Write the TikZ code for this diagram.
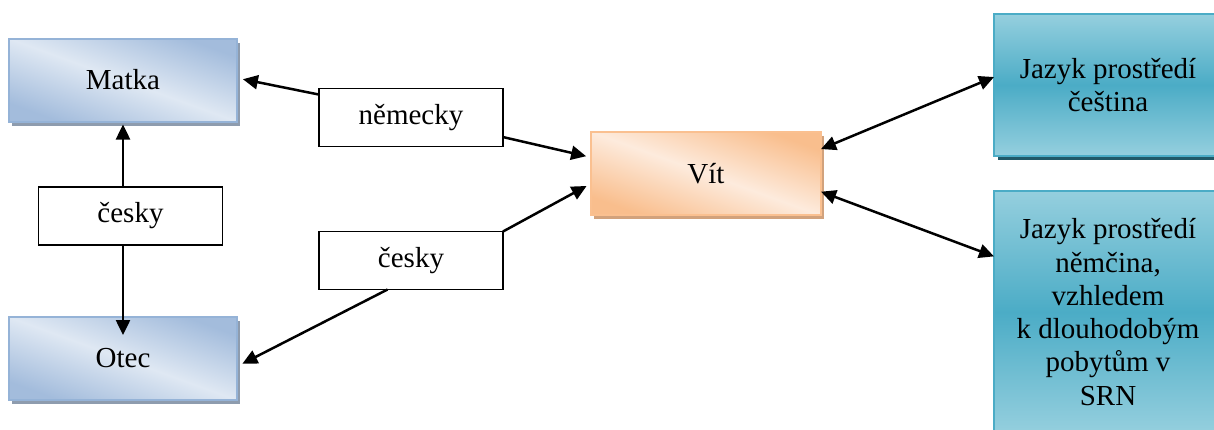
\documentclass[tikz,border=0pt]{standalone}
\usepackage{fontspec}
\setmainfont{LiberationSerif}[Extension=.ttf, UprightFont=*-Regular, BoldFont=*-Bold, ItalicFont=*-Italic, BoldItalicFont=*-BoldItalic]
\usetikzlibrary{arrows.meta,shadows,calc}
\definecolor{blueedge}{HTML}{95B3D7}
\definecolor{bluedark}{HTML}{A3BCDC}
\definecolor{bluelight}{HTML}{DFE8F3}
\definecolor{blueshadow}{HTML}{8E9CAE}
\definecolor{orangeedge}{HTML}{FAC090}
\definecolor{orangedark}{HTML}{F9BE8D}
\definecolor{orangelight}{HTML}{FDEBDD}
\definecolor{orangeshadow}{HTML}{D2A27C}
\definecolor{tealedge}{HTML}{4BACC6}
\definecolor{teallight}{HTML}{95CFDE}
\definecolor{tealdark}{HTML}{4BACC6}
\definecolor{tealshadow}{HTML}{215968}
\begin{document}
\begin{tikzpicture}[x=1pt,y=-1pt,
  every node/.style={font=\rmfamily\fontsize{29}{33.3}\selectfont, outer sep=0pt, inner sep=0pt, align=center},
  person/.style={draw=blueedge, line width=2pt, minimum width=228pt, minimum height=83pt,
    top color=bluedark, bottom color=bluedark, middle color=bluelight, shading angle=-20,
    drop shadow={shadow xshift=3pt, shadow yshift=-4pt, fill=blueshadow, opacity=1}},
  childbox/.style={draw=orangeedge, line width=2pt, minimum width=230pt, minimum height=83pt,
    top color=orangedark, bottom color=orangedark, middle color=orangelight, shading angle=-20,
    drop shadow={shadow xshift=3pt, shadow yshift=-4pt, fill=orangeshadow, opacity=1}},
  envbox/.style={draw=tealedge, line width=2pt, minimum width=228pt,
    top color=teallight, bottom color=teallight, middle color=tealdark,
    drop shadow={shadow xshift=4pt, shadow yshift=-4pt, fill=tealshadow, opacity=1}},
  tagbox/.style={draw=black, line width=1.5pt, fill=white, minimum width=184pt, minimum height=58pt},
  arr/.style={line width=2.5pt, -{Triangle[length=15pt,width=14pt]}},
  both/.style={line width=2.5pt, {Triangle[length=15pt,width=14pt]}-{Triangle[length=15pt,width=14pt]}}
]
\useasboundingbox (0,0) rectangle (1214,429);
\clip (0,0) rectangle (1214,429);

% family members and the child
\node[person] (mat) at (123,80) {Matka};
\node[person] (otec) at (123,358.5) {Otec};
\node[childbox] (vit) at (706,173.5) {Vít};

% language surroundings
\node[envbox, minimum height=142pt] (cz) at (1108,85) {Jazyk prostředí\\čeština};
\node[envbox, minimum height=242pt] (de) at (1108,312) {Jazyk prostředí\\němčina,\\vzhledem\\k dlouhodobým\\pobytům v\\SRN};

% language labels
\node[tagbox] (nem) at (411,117.5) {německy};
\node[tagbox] (cs1) at (130.5,216) {česky};
\node[tagbox] (cs2) at (411,260.5) {česky};

% connectors
\draw[arr, shorten >=6pt] (nem.166) -- (mat.1.5);
\draw[arr, shorten >=5pt] (nem.-12.6) -- (vit.172.3);
\draw[arr, shorten >=5pt] (cs2.north east) -- (vit.185.7);
\draw[arr, shorten >=6pt] (cs2.231) -- (otec.-4.8);
\draw[arr, shorten >=3pt] (mat.south |- cs1.north) -- (mat.south);
\draw[arr, shorten >=-18pt] (mat.south |- cs1.south) -- (otec.north);
\draw[both] (vit.12) -- (cz.176);
\draw[both] (vit.-9.1) -- (de.154.2);
\end{tikzpicture}
\end{document}
